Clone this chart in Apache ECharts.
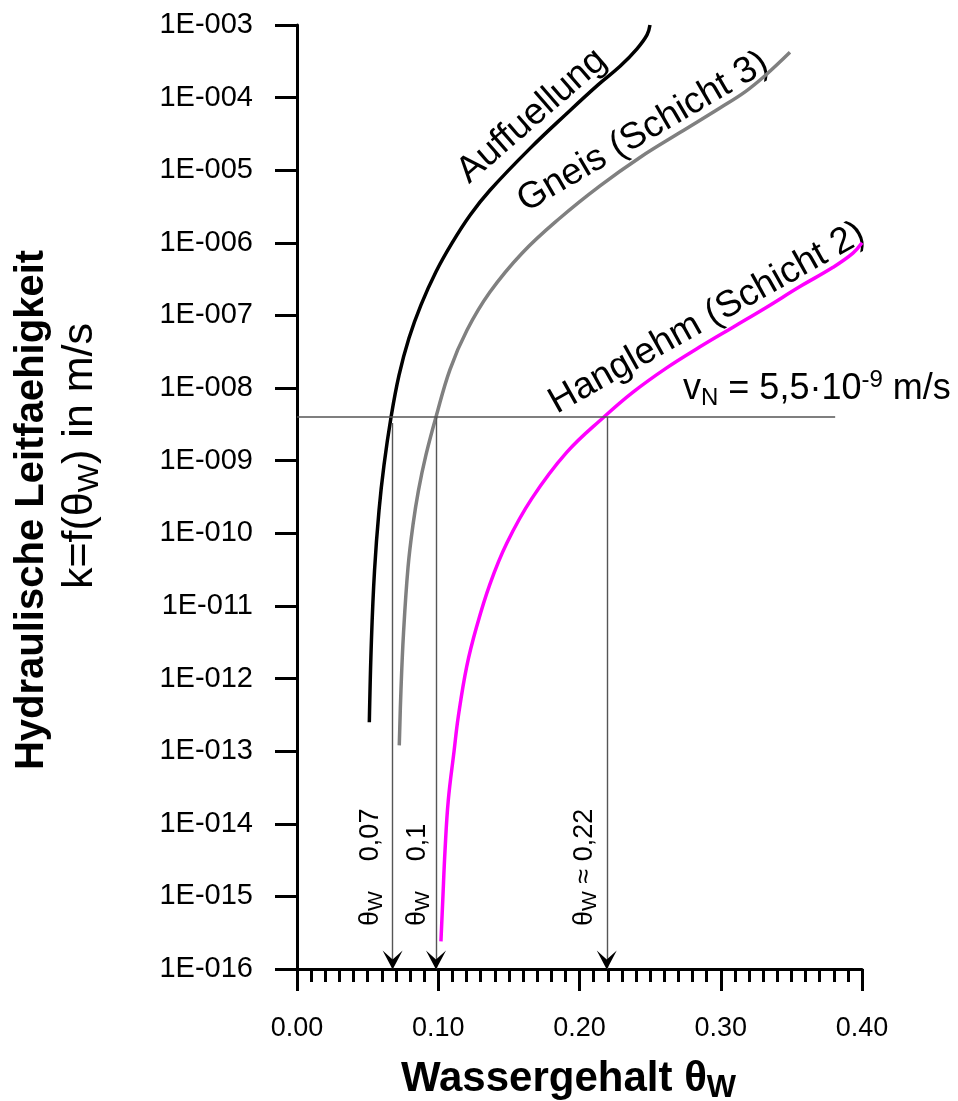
<!DOCTYPE html>
<html>
<head>
<meta charset="utf-8">
<script src="https://cdn.jsdelivr.net/npm/echarts@6/dist/echarts.min.js"></script>
<style>
  html, body { margin: 0; padding: 0; background: #fff; }
  #chart-content { width: 958px; height: 1101px; }
</style>
</head>
<body>
<div id="chart-content"></div>
<script>
// water content theta_W and hydraulic conductivity k (m/s)
var thetaAuffuellung = [0.0512, 0.0527, 0.0549, 0.0581, 0.0616, 0.0666, 0.0722, 0.0793, 0.0878, 0.0984,
  0.1097, 0.1225, 0.1366, 0.1650, 0.1912, 0.2131, 0.2287, 0.2407, 0.2478, 0.2499];
var kAuffuellung = [2.5e-13, 3.4e-12, 3.1e-11, 2.1e-10, 8.7e-10, 4.0e-9, 1.5e-8, 4.9e-8, 1.4e-7, 4.0e-7,
  9.9e-7, 2.4e-6, 5.3e-6, 2.0e-5, 6.1e-5, 1.5e-4, 2.7e-4, 4.7e-4, 7.3e-4, 1.0e-3];

var thetaGneis = [0.0724, 0.0736, 0.0754, 0.0786, 0.0821, 0.0860, 0.0913, 0.0984, 0.1083, 0.1204,
  0.1366, 0.1593, 0.1862, 0.2145, 0.2428, 0.2711, 0.2994, 0.3172, 0.3313, 0.3490];
var kGneis = [1.2e-13, 6.9e-13, 4.2e-12, 3.4e-11, 1.3e-10, 3.9e-10, 1.2e-9, 4.0e-9, 1.8e-8, 6.3e-8,
  2.1e-7, 7.2e-7, 2.2e-6, 6.1e-6, 1.5e-5, 3.3e-5, 7.2e-5, 1.2e-4, 2.0e-4, 4.2e-4];

var thetaHanglehm = [0.1019, 0.1032, 0.1048, 0.1071, 0.1112, 0.1142, 0.1201, 0.1272, 0.1366, 0.1485,
  0.1662, 0.1909, 0.2173, 0.2379, 0.2617, 0.2853, 0.3087, 0.3325, 0.3561, 0.3795, 0.3936, 0.4000];
var kHanglehm = [2.4e-16, 8.9e-16, 4.3e-15, 2.1e-14, 1.0e-13, 3.0e-13, 1.45e-12, 5.2e-12, 2.0e-11, 7.3e-11,
  3.0e-10, 1.3e-9, 4.0e-9, 8.8e-9, 1.9e-8, 3.7e-8, 6.9e-8, 1.3e-7, 2.5e-7, 4.6e-7, 7.2e-7, 1.0e-6];

// v_N reference level and the theta_W values read at it
var kRef = 4.0e-9;
var refLineEnd = 0.381;
var thetaRead = [0.0677, 0.0984, 0.2193];
var readStart = [3.3e-9, 4.0e-9, 4.0e-9];
var readLabels = ['0,07', '0,1', '0,22'];

var kMin = 1e-16, kMax = 1e-3;

function pairs(xs, ys) {
  return xs.map(function (x, i) { return [x, ys[i]]; });
}

function yLabel(v) {
  var e = Math.round(Math.log10(v));
  return '1E-' + String(-e).padStart(3, '0');
}

var font = 'Arial, "Liberation Sans", sans-serif';
var refColor = '#555';

var myChart = echarts.init(document.getElementById('chart-content'));

var option = {
  backgroundColor: '#fff',
  animation: false,
  textStyle: { fontFamily: font, color: '#000' },
  grid: { left: 297, right: 96, top: 25, bottom: 132, containLabel: false, outerBoundsMode: 'none' },
  xAxis: {
    type: 'value',
    min: 0,
    max: 0.4,
    interval: 0.1,
    splitLine: { show: false },
    axisLine: { lineStyle: { color: '#000', width: 3 } },
    axisTick: { length: 22, lineStyle: { color: '#000', width: 3 } },
    minorTick: { show: true, splitNumber: 10, length: 13, lineStyle: { color: '#000', width: 3 } },
    axisLabel: { fontSize: 27, color: '#000', margin: 46, formatter: function (v) { return v.toFixed(2); } },
    name: '{b|Wassergehalt θ}{s|W}',
    nameLocation: 'middle',
    nameGap: 86,
    nameTextStyle: {
      padding: [0, 22, 0, 0],
      rich: {
        b: { fontSize: 42, fontWeight: 'bold', fontFamily: font, color: '#000' },
        s: { fontSize: 31, fontWeight: 'bold', fontFamily: font, color: '#000', padding: [18, 0, 0, 0] }
      }
    }
  },
  yAxis: {
    type: 'log',
    logBase: 10,
    min: kMin,
    max: kMax,
    interval: 1,
    splitLine: { show: false },
    axisLine: { lineStyle: { color: '#000', width: 3 } },
    axisTick: { length: 22, lineStyle: { color: '#000', width: 3 } },
    axisLabel: { fontSize: 29, color: '#000', margin: 44, formatter: yLabel }
  },
  series: [
    {
      name: 'Auffuellung', type: 'line', data: pairs(thetaAuffuellung, kAuffuellung),
      showSymbol: false, smooth: 0.4, lineStyle: { color: '#000', width: 3.5 }
    },
    {
      name: 'Gneis (Schicht 3)', type: 'line', data: pairs(thetaGneis, kGneis),
      showSymbol: false, smooth: 0.4, lineStyle: { color: '#808080', width: 3.5 }
    },
    {
      name: 'Hanglehm (Schicht 2)', type: 'line', data: pairs(thetaHanglehm, kHanglehm),
      showSymbol: false, smooth: 0.4, lineStyle: { color: '#ff00ff', width: 3.5 }
    },
    {
      name: 'vN', type: 'line', data: [[0, kRef], [refLineEnd, kRef]],
      showSymbol: false, lineStyle: { color: refColor, width: 1.4 },
      markLine: {
        silent: true,
        symbol: 'none',
        label: { show: false },
        lineStyle: { color: refColor, width: 1.4, type: 'solid' },
        data: thetaRead.map(function (t, i) {
          return [{ coord: [t, readStart[i]] }, { coord: [t, kMin] }];
        })
      },
      markPoint: {
        silent: true,
        symbol: 'path://M0,17 L-9,0 L0,8 L9,0 Z',
        symbolSize: [20, 19],
        symbolOffset: [0, -9],
        label: { show: false },
        itemStyle: { color: '#000' },
        data: thetaRead.map(function (t) { return { coord: [t, kMin] }; })
      }
    }
  ]
};

myChart.setOption(option);

// text annotations
function curveText(txt, x, y, deg) {
  return {
    type: 'text', x: x, y: y, rotation: deg * Math.PI / 180,
    style: { text: txt, font: '37px ' + font, fill: '#000', align: 'center', verticalAlign: 'middle' }
  };
}
function readText(i, x) {
  var pre = i === 2 ? ' ≈ ' : '    ';
  return {
    type: 'text', x: x, y: 926, rotation: Math.PI / 2,
    style: {
      text: '{a|θ}{s|W}{a|' + pre + readLabels[i] + '}',
      align: 'left', verticalAlign: 'bottom',
      rich: {
        a: { fontSize: 27, fontFamily: font, fill: '#000' },
        s: { fontSize: 21, fontFamily: font, fill: '#000', padding: [12, 0, 0, 0] }
      }
    }
  };
}

var px = thetaRead.map(function (t) { return myChart.convertToPixel({ gridIndex: 0 }, [t, kRef])[0]; });

myChart.setOption({
  graphic: [
    curveText('Auffuellung', 532, 116, 41),
    curveText('Gneis (Schicht 3)', 643, 132, 30.3),
    curveText('Hanglehm (Schicht 2)', 707, 318, 29.3),
    {
      type: 'text', x: 683, y: 389,
      style: {
        text: '{a|v}{s|N}{a| = 5,5·10}{p|-9}{a| m/s}',
        align: 'left', verticalAlign: 'middle',
        rich: {
          a: { fontSize: 36, fontFamily: font, fill: '#000' },
          s: { fontSize: 24, fontFamily: font, fill: '#000', padding: [18, 0, 0, 0] },
          p: { fontSize: 24, fontFamily: font, fill: '#000', padding: [0, 0, 18, 0] }
        }
      }
    },
    readText(0, px[0] - 6),
    readText(1, px[1] - 2),
    readText(2, px[2] - 6),
    {
      type: 'text', x: 32, y: 510, rotation: Math.PI / 2,
      style: { text: 'Hydraulische Leitfaehigkeit', font: 'bold 40px ' + font, fill: '#000', align: 'center', verticalAlign: 'middle' }
    },
    {
      type: 'text', x: 80, y: 456, rotation: Math.PI / 2,
      style: {
        text: '{a|k=f(θ}{s|W}{a|) in m/s}',
        align: 'center', verticalAlign: 'middle',
        rich: {
          a: { fontSize: 43, fontFamily: font, fill: '#000' },
          s: { fontSize: 30, fontFamily: font, fill: '#000', padding: [20, 0, 0, 0] }
        }
      }
    }
  ]
});
</script>
</body>
</html>
